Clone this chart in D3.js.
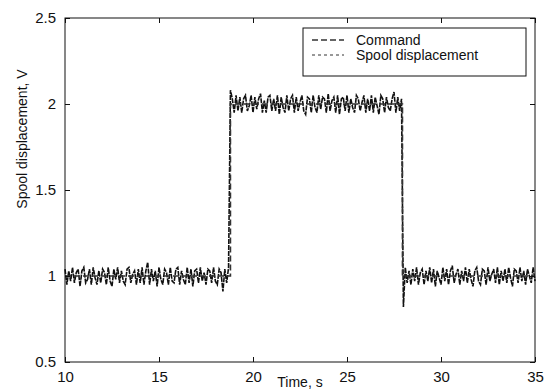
<!DOCTYPE html>
<html>
<head>
<meta charset="utf-8">
<script src="https://cdn.jsdelivr.net/npm/d3@7"></script>
<style>
  body { margin: 0; background: #fff; }
  svg text { font-family: "Liberation Sans", Arial, sans-serif; fill: #111; }
</style>
</head>
<body>
<div id="chart"></div>
<script>
// command signal (step input)
var commandT = [10, 18.8, 18.8, 27.95, 27.95, 35];
var commandV = [1, 1, 2, 2, 1, 1];

// spool displacement, sampled every 0.1 s from t = 10 s
var spoolT0 = 10, spoolDt = 0.1;
var spoolLow1 = [
  1.04, 0.95, 1.03, 0.97, 1.05, 0.96, 1.02, 1.04, 0.94, 1.03,
  1.05, 0.96, 0.98, 1.04, 0.95, 1.05, 0.99, 0.95, 1.03, 0.96,
  1.04, 1.02, 0.95, 1.05, 0.97, 0.94, 1.04, 0.98, 1.05, 0.96,
  1.03, 0.97, 0.95, 1.04, 1.05, 0.96, 1.01, 1.03, 0.95, 1.04,
  0.96, 1.05, 0.95, 1.03, 1.08, 0.95, 1.04, 0.97, 1.03, 0.94,
  1.05, 0.98, 0.95, 1.04, 1.02, 0.95, 1.05, 0.97, 0.96, 1.04,
  1.05, 0.95, 1.03, 0.98, 0.95, 1.05, 0.96, 1.04, 0.94, 1.03,
  1.04, 0.96, 1.05, 0.97, 1.02, 0.95, 1.04, 1.03, 0.96, 1.05,
  0.97, 0.95, 1.04, 1.02, 0.91, 1.04, 0.96, 1.05
];
var spoolHigh = [
  2.08, 2.03, 1.95, 2.05, 1.96, 2.04, 1.95, 2.03, 2.05, 1.96,
  1.99, 2.05, 1.95, 2.04, 1.97, 2.03, 2.06, 1.95, 2.02, 1.95,
  2.04, 2.05, 1.96, 2.03, 1.96, 2.05, 1.94, 2.04, 1.98, 1.95,
  2.05, 1.96, 2.03, 2.05, 1.95, 2.04, 1.96, 2.01, 2.05, 1.96,
  1.94, 2.04, 2.03, 1.95, 2.05, 1.98, 1.95, 2.05, 1.97, 2.04,
  2.03, 1.95, 2.06, 1.96, 2.02, 2.04, 1.95, 2.05, 1.94, 2.03,
  2.04, 1.96, 2.05, 1.95, 2.03, 1.98, 1.95, 2.05, 2.03, 1.96,
  2.01, 2.05, 1.95, 2.03, 1.96, 2.05, 1.95, 2.04, 1.99, 1.94,
  2.05, 2.03, 1.95, 2.04, 1.98, 1.96, 2.03, 2.07, 1.95, 2.04,
  1.96, 2.03
];
var spoolLow2 = [
  0.82, 1.05, 0.96, 1.03, 0.95, 1.04, 0.97, 1.05, 0.95, 1.02,
  1.04, 0.95, 1.03, 0.97, 1.05, 0.96, 1.04, 0.94, 1.03, 0.99,
  0.95, 1.05, 0.97, 1.04, 0.95, 1.03, 1.06, 0.96, 1.01, 1.04,
  0.95, 1.03, 0.97, 1.05, 0.96, 1.04, 0.98, 0.94, 1.03, 1.05,
  0.97, 0.95, 1.04, 1.03, 0.95, 1.05, 0.97, 1.01, 1.04, 0.96,
  1.05, 0.95, 1.03, 0.97, 1.04, 0.96, 1.05, 0.99, 0.94, 1.04,
  1.03, 0.96, 1.05, 0.97, 1.03, 0.95, 1.04, 1.00, 0.96, 1.05,
  0.97
];

var xTicks = [10, 15, 20, 25, 30, 35];
var yTicks = [0.5, 1, 1.5, 2, 2.5];
var legendLabels = ["Command", "Spool displacement"];

var width = 551, height = 392;
var margin = { top: 18, right: 16, bottom: 30, left: 65 };
var iw = width - margin.left - margin.right,
  ih = height - margin.top - margin.bottom;

var svg = d3.select("#chart").append("svg")
  .attr("width", width)
  .attr("height", height);

var g = svg.append("g")
  .attr("transform", "translate(" + margin.left + "," + margin.top + ")");

var x = d3.scaleLinear().domain([10, 35]).range([0, iw]);
var y = d3.scaleLinear().domain([0.5, 2.5]).range([ih, 0]);

var spoolV = spoolLow1.concat(spoolHigh, spoolLow2);
var spool = spoolV.map(function(v, i) {
  return { t: spoolT0 + i * spoolDt, v: v };
});
var command = commandT.map(function(t, i) {
  return { t: t, v: commandV[i] };
});

var line = d3.line()
  .x(function(d) { return x(d.t); })
  .y(function(d) { return y(d.v); });

g.append("path")
  .datum(spool)
  .attr("d", line)
  .attr("fill", "none")
  .attr("stroke", "#111")
  .attr("stroke-width", 1.6)
  .attr("stroke-dasharray", "5,1");

g.append("path")
  .datum(command)
  .attr("d", line)
  .attr("fill", "none")
  .attr("stroke", "#333")
  .attr("stroke-width", 1.6)
  .attr("stroke-dasharray", "6,3");

// axes, ticks pointing inward on all four sides
function styleAxis(sel) {
  sel.select(".domain").remove();
  sel.selectAll(".tick line").attr("stroke", "#111");
  sel.selectAll(".tick text").attr("font-size", 15);
}

g.append("g")
  .attr("transform", "translate(0," + ih + ")")
  .call(d3.axisBottom(x).tickValues(xTicks).tickSize(-5).tickPadding(9).tickFormat(d3.format("d")))
  .call(styleAxis);

g.append("g")
  .call(d3.axisTop(x).tickValues(xTicks).tickSize(-5).tickFormat(""))
  .call(styleAxis);

g.append("g")
  .call(d3.axisLeft(y).tickValues(yTicks).tickSize(-5).tickPadding(9).tickFormat(function(d) { return d; }))
  .call(styleAxis);

g.append("g")
  .attr("transform", "translate(" + iw + ",0)")
  .call(d3.axisRight(y).tickValues(yTicks).tickSize(-5).tickFormat(""))
  .call(styleAxis);

g.selectAll(".tick text").attr("fill", "#111");

g.append("rect")
  .attr("width", iw)
  .attr("height", ih)
  .attr("fill", "none")
  .attr("stroke", "#111")
  .attr("stroke-width", 1);

// axis labels
svg.append("text")
  .attr("x", 300)
  .attr("y", 387)
  .attr("text-anchor", "middle")
  .attr("font-size", 14)
  .text("Time, s");

svg.append("text")
  .attr("transform", "translate(27,139) rotate(-90)")
  .attr("text-anchor", "middle")
  .attr("font-size", 14)
  .text("Spool displacement, V");

// legend
var legend = svg.append("g").attr("transform", "translate(303,28)");
legend.append("rect")
  .attr("width", 223)
  .attr("height", 48)
  .attr("fill", "#fff")
  .attr("stroke", "#111");

var legendDash = ["6,3", "3,3"];
var legendWidth = [1.6, 1];
legendLabels.forEach(function(lab, i) {
  var ly = 12 + i * 15;
  legend.append("line")
    .attr("x1", 9).attr("x2", 41)
    .attr("y1", ly).attr("y2", ly)
    .attr("stroke", "#333")
    .attr("stroke-width", legendWidth[i])
    .attr("stroke-dasharray", legendDash[i]);
  legend.append("text")
    .attr("x", 53)
    .attr("y", ly + 5)
    .attr("font-size", 14)
    .text(lab);
});
</script>
</body>
</html>
